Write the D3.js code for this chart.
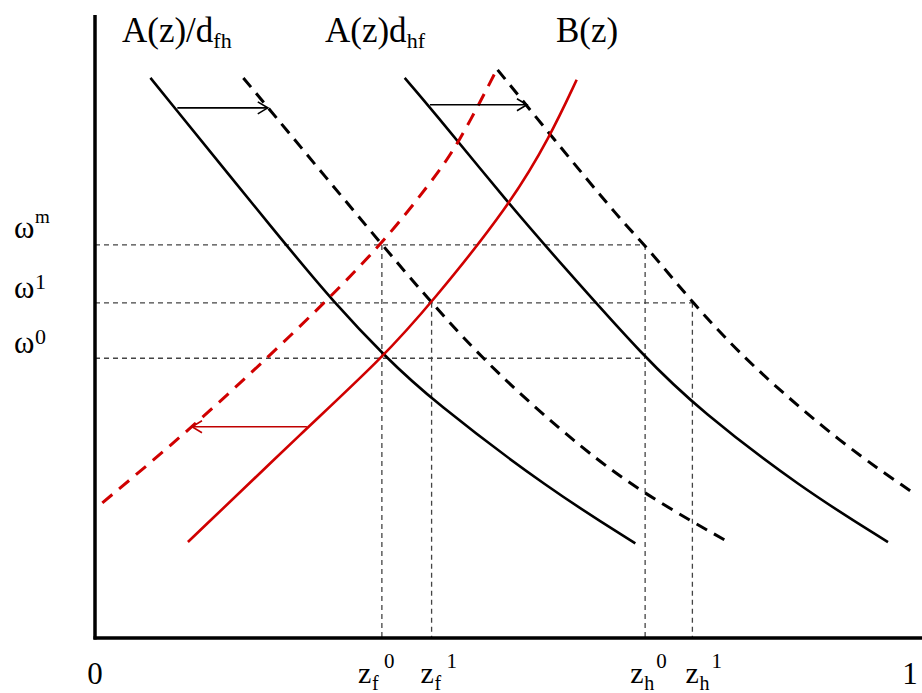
<!DOCTYPE html>
<html>
<head>
<meta charset="utf-8">
<script src="https://cdn.jsdelivr.net/npm/d3@7"></script>
<style>
  body { margin: 0; background: #fff; }
  text { font-family: "Liberation Serif", "Times New Roman", serif; fill: #000; }
</style>
</head>
<body>
<svg id="chart"></svg>
<script>
// curves as [z, omega] pairs (z and omega both on 0..1)
const aOverDfh      = [[0.068,0.899],[0.234,0.631],[0.293,0.539],[0.355,0.453],[0.413,0.382],[0.558,0.238],[0.663,0.152]];
const aOverDfhShift = [[0.182,0.899],[0.352,0.631],[0.413,0.538],[0.488,0.430],[0.599,0.302],[0.675,0.230],[0.777,0.154]];
const aTimesDhf      = [[0.380,0.899],[0.411,0.852],[0.509,0.695],[0.571,0.602],[0.675,0.449],[0.742,0.366],[0.865,0.242],[0.973,0.154]];
const aTimesDhfShift = [[0.494,0.912],[0.561,0.804],[0.648,0.666],[0.675,0.631],[0.733,0.538],[0.804,0.438],[0.918,0.310],[1.004,0.233]];
const bCurve      = [[0.114,0.154],[0.260,0.337],[0.352,0.449],[0.413,0.538],[0.509,0.695],[0.558,0.804],[0.591,0.896]];
const bCurveShift = [[0.009,0.217],[0.119,0.337],[0.252,0.499],[0.352,0.631],[0.411,0.730],[0.444,0.788],[0.494,0.915]];

// wage levels and where their guide lines stop
const omegaNames  = ["m", "1", "0"];
const omegaValues = [0.631, 0.538, 0.449];
const omegaEnds   = [0.675, 0.733, 0.675];

// cut-off productivities and where their guide lines start
const zSubs   = ["f", "f", "h", "h"];
const zSups   = ["0", "1", "0", "1"];
const zValues = [0.352, 0.413, 0.675, 0.733];
const zTops   = [0.631, 0.538, 0.631, 0.538];

// shift arrows: from z, to z, at omega
const shiftArrows = [
  { from: 0.101, to: 0.212, w: 0.851, color: "#000" },
  { from: 0.411, to: 0.530, w: 0.856, color: "#000" },
  { from: 0.260, to: 0.119, w: 0.339, color: "#c00000" }
];

const width = 922;
const height = 693;

const svg = d3.select("#chart")
  .attr("width", width)
  .attr("height", height);

const x = d3.scaleLinear().domain([0, 1]).range([95, 910]);
const y = d3.scaleLinear().domain([0, 1]).range([638, 15]);

const line = d3.line()
  .x(d => x(d[0]))
  .y(d => y(d[1]))
  .curve(d3.curveBasis);

// dashed guide lines
const guides = svg.append("g")
  .attr("stroke", "#444")
  .attr("stroke-width", 1.3)
  .attr("stroke-dasharray", "5,4");

omegaValues.forEach((w, i) => {
  guides.append("line")
    .attr("x1", x(0)).attr("x2", x(omegaEnds[i]))
    .attr("y1", y(w)).attr("y2", y(w));
});
zValues.forEach((z, i) => {
  guides.append("line")
    .attr("x1", x(z)).attr("x2", x(z))
    .attr("y1", y(zTops[i])).attr("y2", y(0));
});

// the six curves
const curves = [
  { d: aOverDfh, color: "#000", dash: null },
  { d: aOverDfhShift, color: "#000", dash: "12,8" },
  { d: aTimesDhf, color: "#000", dash: null },
  { d: aTimesDhfShift, color: "#000", dash: "12,8" },
  { d: bCurve, color: "#d00000", dash: null },
  { d: bCurveShift, color: "#d00000", dash: "13,9" }
];

curves.forEach(c => {
  svg.append("path")
    .datum(c.d)
    .attr("fill", "none")
    .attr("stroke", c.color)
    .attr("stroke-width", c.dash ? 3 : 2.6)
    .attr("stroke-dasharray", c.dash)
    .attr("d", line);
});

// arrows
shiftArrows.forEach(a => {
  const x1 = x(a.from), x2 = x(a.to), yy = y(a.w);
  const dir = x2 > x1 ? 1 : -1;
  svg.append("line")
    .attr("x1", x1).attr("x2", x2)
    .attr("y1", yy).attr("y2", yy)
    .attr("stroke", a.color)
    .attr("stroke-width", 1.6);
  svg.append("path")
    .attr("d", `M${x2 - dir * 10},${yy - 6}L${x2},${yy}L${x2 - dir * 10},${yy + 6}`)
    .attr("fill", "none")
    .attr("stroke", a.color)
    .attr("stroke-width", 1.6);
});

// axes
svg.append("line")
  .attr("x1", x(0)).attr("x2", x(0))
  .attr("y1", 15).attr("y2", y(0) + 1.5)
  .attr("stroke", "#000").attr("stroke-width", 3.5);
svg.append("line")
  .attr("x1", x(0) - 1.5).attr("x2", width)
  .attr("y1", y(0)).attr("y2", y(0))
  .attr("stroke", "#000").attr("stroke-width", 3.5);

// curve labels
const topLabels = [
  { x: 122, main: "A(z)/d", sub: "fh" },
  { x: 325, main: "A(z)d", sub: "hf" },
  { x: 556, main: "B(z)", sub: "" }
];
topLabels.forEach(l => {
  const t = svg.append("text")
    .attr("x", l.x).attr("y", 42)
    .attr("font-size", 35)
    .text(l.main);
  const w = t.node().getComputedTextLength();
  if (l.sub) {
    svg.append("text")
      .attr("x", l.x + w).attr("y", 48)
      .attr("font-size", 22)
      .text(l.sub);
  }
});

// omega labels
const omegaBase = [238, 298, 353];
omegaNames.forEach((n, i) => {
  svg.append("text")
    .attr("x", 14).attr("y", omegaBase[i])
    .attr("font-size", 31)
    .text("\u03c9");
  svg.append("text")
    .attr("x", 35).attr("y", omegaBase[i] - (n === "m" ? 15 : 9))
    .attr("font-size", n === "m" ? 19 : 22)
    .text(n);
});

// z axis labels
svg.append("text")
  .attr("x", x(0)).attr("y", 684)
  .attr("text-anchor", "middle")
  .attr("font-size", 31)
  .text("0");
svg.append("text")
  .attr("x", x(1)).attr("y", 684)
  .attr("text-anchor", "middle")
  .attr("font-size", 31)
  .text("1");

const zLabelShift = [-24, -11, -15, -7];
zValues.forEach((z, i) => {
  const x0 = x(z) + zLabelShift[i];
  svg.append("text")
    .attr("x", x0).attr("y", 683)
    .attr("font-size", 30)
    .text("z");
  svg.append("text")
    .attr("x", x0 + 14).attr("y", 690)
    .attr("font-size", 20)
    .text(zSubs[i]);
  svg.append("text")
    .attr("x", x0 + 26).attr("y", 668)
    .attr("font-size", 21)
    .text(zSups[i]);
});
</script>
</body>
</html>
